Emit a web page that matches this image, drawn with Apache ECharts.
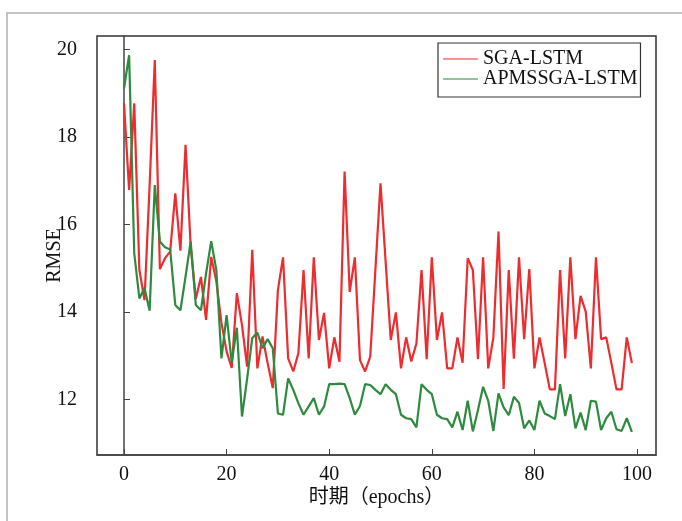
<!DOCTYPE html>
<html>
<head>
<meta charset="utf-8">
<script src="https://cdn.jsdelivr.net/npm/echarts@6/dist/echarts.min.js"></script>
<style>
html,body{margin:0;padding:0;background:#fff;}
#chart{width:682px;height:521px;}
</style>
</head>
<body>
<div id="chart"></div>
<script>
// Epoch index (x values)
const epochs = [0,1,2,3,4,5,6,7,8,9,10,11,12,13,14,15,16,17,18,19,
  20,21,22,23,24,25,26,27,28,29,30,31,32,33,34,35,36,37,38,39,
  40,41,42,43,44,45,46,47,48,49,50,51,52,53,54,55,56,57,58,59,
  60,61,62,63,64,65,66,67,68,69,70,71,72,73,74,75,76,77,78,79,
  80,81,82,83,84,85,86,87,88,89,90,91,92,93,94,95,96,97,98,99];

// SGA-LSTM RMSE
const sgaLstm = [18.77,16.79,18.77,14.96,14.27,16.9,19.76,14.98,15.23,15.38,
  16.71,15.40,17.82,15.5,14.3,14.8,13.82,15.26,14.7,13.75,
  13.1,12.72,14.43,13.7,12.75,15.42,12.71,13.44,12.83,12.26,
  14.50,15.25,12.94,12.64,13.06,14.96,12.94,15.25,13.36,13.98,
  12.71,13.42,12.86,17.21,14.46,15.25,12.90,12.64,12.98,14.95,
  16.94,15.15,13.36,13.99,12.71,13.42,12.87,13.28,14.96,12.92,
  15.25,13.36,13.99,12.71,12.71,13.42,12.84,15.23,14.96,12.92,
  15.25,12.71,13.42,15.84,12.24,14.96,12.93,15.25,13.38,14.98,
  12.71,13.42,12.83,12.23,12.23,14.96,12.94,15.25,13.38,14.37,
  14.01,12.71,15.25,13.38,13.42,12.83,12.23,12.23,13.42,12.83];

// APMSSGA-LSTM RMSE
const apmssgaLstm = [19.11,19.87,15.34,14.31,14.55,14.03,16.90,15.61,15.48,15.43,
  14.16,14.04,14.81,15.61,14.16,14.04,14.88,15.62,14.96,12.94,
  13.93,12.85,13.64,11.61,12.47,13.40,13.53,13.17,13.38,13.17,
  11.68,11.65,12.48,12.22,11.91,11.65,11.84,12.03,11.65,11.84,
  12.35,12.35,12.36,12.35,12.03,11.65,11.85,12.35,12.33,12.22,
  12.12,12.35,12.22,12.12,11.65,11.57,11.55,11.36,12.35,12.22,
  12.12,11.65,11.57,11.55,11.36,11.72,11.30,11.97,11.27,11.76,
  12.29,11.97,11.28,12.14,11.82,11.64,12.06,11.92,11.34,11.52,
  11.30,11.97,11.68,11.62,11.55,12.35,11.62,12.12,11.34,11.70,
  11.30,11.97,11.95,11.30,11.57,11.72,11.32,11.28,11.57,11.26];

const seriesNames = ['SGA-LSTM', 'APMSSGA-LSTM'];
const xTicks = [0, 20, 40, 60, 80, 100];
const yTicks = [12, 14, 16, 18, 20];
const xAxisTitle = '时期（epochs）';
const yAxisTitle = 'RMSE';

const FONT = "'Liberation Serif', 'Noto Sans CJK SC', serif";
const chart = echarts.init(document.getElementById('chart'), null, {renderer: 'canvas'});

function pairs(vals) { return epochs.map((e, i) => [e, vals[i]]); }

chart.setOption({
  animation: false,
  backgroundColor: '#ffffff',
  graphic: [{
    type: 'rect', z: -10,
    shape: {x: 7, y: 13, width: 720, height: 560},
    style: {fill: 'none', stroke: '#c4c4c4', lineWidth: 2}
  }],
  grid: {
    left: 97, right: 26, top: 36, bottom: 66,
    show: true, borderColor: '#333', borderWidth: 1.5, backgroundColor: 'transparent'
  },
  legend: {
    data: seriesNames,
    orient: 'vertical',
    left: 438, top: 43,
    padding: [6, 3, 8, 5],
    itemGap: 0,
    icon: 'rect',
    itemWidth: 35, itemHeight: 1.2,
    itemTextGap: 1,
    borderColor: '#333', borderWidth: 1.2,
    backgroundColor: '#fff',
    textStyle: {fontFamily: FONT, fontSize: 20, color: '#111', lineHeight: 19}
  },
  xAxis: {
    type: 'value',
    min: -5.26, max: 103.7,
    name: xAxisTitle,
    nameLocation: 'middle',
    nameGap: 33,
    nameMoveOverlap: false,
    nameTextStyle: {fontFamily: FONT, fontSize: 20, color: '#111'},
    axisLine: {show: true, lineStyle: {color: '#444', width: 1.5}},
    axisTick: {show: true, inside: true, length: 6, customValues: xTicks, lineStyle: {color: '#444', width: 1}},
    axisLabel: {customValues: xTicks, margin: 10, fontFamily: FONT, fontSize: 20, color: '#111'},
    splitLine: {show: false}
  },
  yAxis: {
    type: 'value',
    min: 10.73, max: 20.31,
    name: yAxisTitle,
    nameLocation: 'middle',
    nameGap: 32,
    nameMoveOverlap: false,
    nameRotate: 90,
    nameTextStyle: {fontFamily: FONT, fontSize: 20, color: '#111', padding: [0, 20, 0, 0]},
    axisLine: {show: true, lineStyle: {color: '#444', width: 1.5}},
    axisTick: {show: true, inside: true, length: 6, customValues: yTicks, lineStyle: {color: '#444', width: 1}},
    axisLabel: {customValues: yTicks, margin: 20, fontFamily: FONT, fontSize: 20, color: '#111'},
    splitLine: {show: false}
  },
  series: [
    {
      name: seriesNames[0], type: 'line', data: pairs(sgaLstm),
      symbol: 'none', smooth: false,
      lineStyle: {color: '#ee2b2e', width: 2.2},
      itemStyle: {color: '#ee2b2e'}
    },
    {
      name: seriesNames[1], type: 'line', data: pairs(apmssgaLstm),
      symbol: 'none', smooth: false,
      lineStyle: {color: '#2e8a3f', width: 2.2},
      itemStyle: {color: '#2e8a3f'}
    }
  ]
});
</script>
</body>
</html>
